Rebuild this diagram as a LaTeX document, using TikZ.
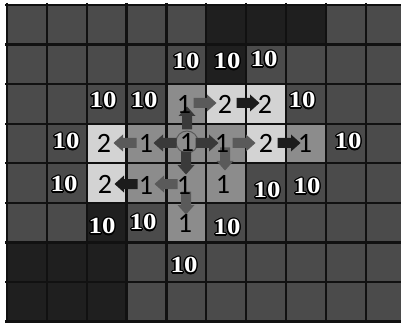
\documentclass[tikz,border=0pt]{standalone}
\usepackage{fontspec}
\usepackage{contour}
\newfontfamily\digfont{Carlito}
\newfontfamily\tenfont{Liberation Serif}
\contourlength{1.1pt}
\definecolor{cG}{HTML}{4B4B4B}
\definecolor{cD}{HTML}{1F1F1F}
\definecolor{cM}{HTML}{8C8C8C}
\definecolor{cL}{HTML}{D3D3D3}
\definecolor{aGray}{HTML}{5A5A5A}
\definecolor{aDark}{HTML}{3A3A3A}
\definecolor{aBlack}{HTML}{1C1C1C}
\definecolor{lineK}{HTML}{111111}
\newcommand\blockarr[4]{\fill[#4, shift={(#1,#2)}, rotate=#3] (-11.5,-5) -- (2,-5) -- (2,-8.5) -- (11.5,0) -- (2,8.5) -- (2,5) -- (-11.5,5) -- cycle;}
\newcommand\tenlabel{\scalebox{1.22}[1.05]{\contour{black}{10}}}
\begin{document}
\begin{tikzpicture}[x=1pt,y=-1pt,
  gridline/.style={draw=lineK, line width=2.2pt},
  dig/.style={font=\digfont\fontsize{28}{28}\selectfont, inner sep=0pt, text=black},
  ten/.style={font=\tenfont\bfseries\fontsize{22}{22}\selectfont, inner sep=0pt, text=white}]
\useasboundingbox (0,0) rectangle (401,323);
\fill[white] (0,0) rectangle (401,323);
\begin{scope}
\clip (0,0) rectangle (401,323);
\foreach \c in {0,...,9} \foreach \r in {0,...,7} {
  \fill[cG] ({7+39.85*\c},{5+39.57*\r}) rectangle ({7+39.85*(\c+1)},{5+39.57*(\r+1)});
}
\foreach \c/\r/\col in {5/0/cD,6/0/cD,7/0/cD,5/1/cD,4/2/cM,5/2/cL,6/2/cL,
  2/3/cL,3/3/cM,4/3/cM,5/3/cM,6/3/cL,7/3/cM,2/4/cL,3/4/cM,4/4/cM,5/4/cM,
  2/5/cD,4/5/cM,0/6/cD,1/6/cD,2/6/cD,0/7/cD,1/7/cD,2/7/cD} {
  \fill[\col] ({7+39.85*\c},{5+39.57*\r}) rectangle ({7+39.85*(\c+1)},{5+39.57*(\r+1)});
}
\foreach \c in {0,...,10} \draw[gridline] ({7+39.85*\c},3) -- ({7+39.85*\c},330);
\foreach \r in {0,...,8} \draw[gridline] (5,{5+39.57*\r}) -- (410,{5+39.57*\r});
\end{scope}
% circle around the start cell
\draw[draw=aGray, line width=1pt] (187,142) circle (11);
% arrows
\blockarr{205}{103}{0}{aGray}
\blockarr{248}{103}{0}{aBlack}
\blockarr{187}{118}{90}{aDark}
\blockarr{165}{143}{180}{aDark}
\blockarr{125}{143}{180}{aGray}
\blockarr{207}{143}{0}{aDark}
\blockarr{244}{143}{0}{aGray}
\blockarr{289}{143}{0}{aBlack}
\blockarr{225}{159}{270}{aGray}
\blockarr{186}{163}{270}{aDark}
\blockarr{166}{184}{180}{aGray}
\blockarr{126}{184}{180}{aBlack}
\blockarr{186}{203}{270}{aGray}
% digits
\node[dig] (d1) at (184,104) {1};
\node[dig] (d2) at (225,104) {2};
\node[dig] (d3) at (265,104) {2};
\node[dig] (d4) at (104,143) {2};
\node[dig] (d5) at (146,143) {1};
\node[dig] (d6) at (187,142) {1};
\node[dig] (d7) at (222,143) {1};
\node[dig] (d8) at (266,143) {2};
\node[dig] (d9) at (305,143) {1};
\node[dig] (d10) at (105,184) {2};
\node[dig] (d11) at (146,185) {1};
\node[dig] (d12) at (184,185) {1};
\node[dig] (d13) at (223,184) {1};
\node[dig] (d14) at (185,223) {1};
% tens
\node[ten] (t1) at (186,62) {\tenlabel};
\node[ten] (t2) at (227,62) {\tenlabel};
\node[ten] (t3) at (264,60) {\tenlabel};
\node[ten] (t4) at (103,101) {\tenlabel};
\node[ten] (t5) at (144,101) {\tenlabel};
\node[ten] (t6) at (302,101) {\tenlabel};
\node[ten] (t7) at (66,142) {\tenlabel};
\node[ten] (t8) at (348,142) {\tenlabel};
\node[ten] (t9) at (64,185) {\tenlabel};
\node[ten] (t10) at (267,191) {\tenlabel};
\node[ten] (t11) at (307,187) {\tenlabel};
\node[ten] (t12) at (102,227) {\tenlabel};
\node[ten] (t13) at (143,223) {\tenlabel};
\node[ten] (t14) at (227,228) {\tenlabel};
\node[ten] (t15) at (184,266) {\tenlabel};
\end{tikzpicture}
\end{document}
